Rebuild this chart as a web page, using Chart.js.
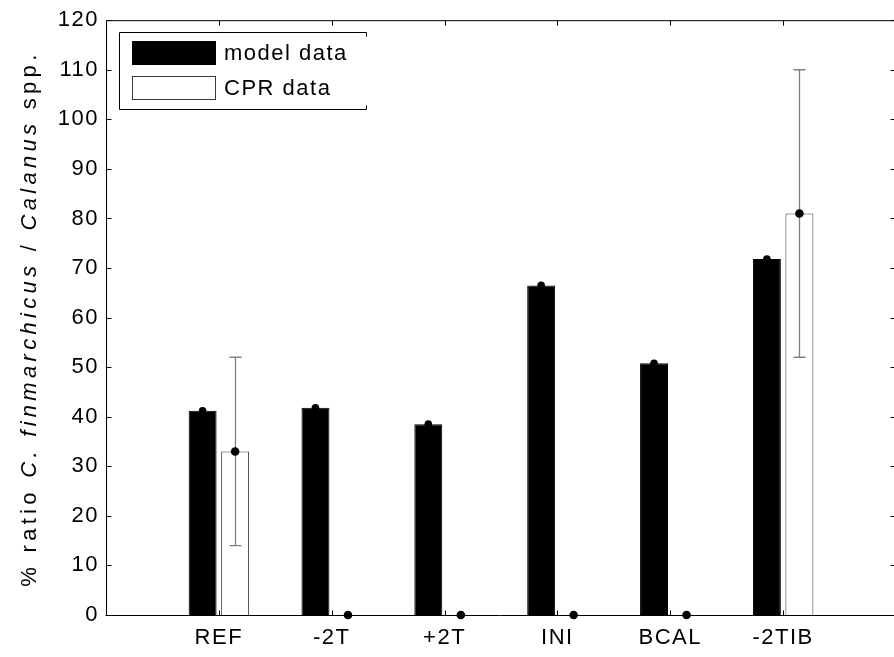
<!DOCTYPE html>
<html><head><meta charset="utf-8">
<script src="https://cdn.jsdelivr.net/npm/chart.js@4.4.0/dist/chart.umd.min.js"></script>
<style>html,body{margin:0;padding:0;background:#fff;overflow:hidden;width:894px;height:657px}canvas{display:block}</style>
</head><body>
<canvas id="c" width="900" height="657"></canvas>
<script>
// ---- data ----
const categories = ['REF', '-2T', '+2T', 'INI', 'BCAL', '-2TIB'];
const modelData = [41.2, 41.8, 38.5, 66.5, 50.8, 71.8];
const cprData = [33, 0, 0, 0, 0, 81];
const cprErr = [19, null, null, null, null, 29];
const yTickValues = [0, 10, 20, 30, 40, 50, 60, 70, 80, 90, 100, 110, 120];
const seriesLabels = ['model data', 'CPR data'];
const yTitleParts = [['% ratio ', false], ['C. finmarchicus', true], [' / ', false], ['Calanus', true], [' spp.', false]];

const FONT = "'Liberation Sans', Arial, sans-serif";
const LS = '1.5px';
const TITLE_LS = '4.3px';

const positions = categories.map((c, i) => i + 1);

const helper = {
  id: 'matlabLook',
  beforeUpdate(chart) { chart.ctx.letterSpacing = LS; },
  beforeDraw(chart) { chart.ctx.letterSpacing = LS; },
  afterDatasetsDraw(chart) {
    const { ctx, chartArea: a, scales: { x, y } } = chart;
    const m0 = chart.getDatasetMeta(0), m1 = chart.getDatasetMeta(1);
    ctx.save();
    // error bars
    ctx.strokeStyle = '#808080';
    ctx.lineWidth = 1.3;
    cprData.forEach((v, i) => {
      if (cprErr[i] == null) return;
      const px = Math.round(m1.data[i].x) + 0.5;
      const t = y.getPixelForValue(v + cprErr[i]);
      const b = y.getPixelForValue(v - cprErr[i]);
      ctx.beginPath();
      ctx.moveTo(px, t); ctx.lineTo(px, b);
      ctx.moveTo(px - 6, t); ctx.lineTo(px + 6, t);
      ctx.moveTo(px - 6, b); ctx.lineTo(px + 6, b);
      ctx.stroke();
    });
    // frame
    ctx.strokeStyle = '#000';
    ctx.lineWidth = 1;
    const L = a.left + 0.5, R = a.right - 0.5, T = a.top + 0.5, B = a.bottom + 0.5;
    ctx.beginPath();
    ctx.moveTo(L, T); ctx.lineTo(R, T);
    ctx.moveTo(L, T); ctx.lineTo(L, B);
    ctx.moveTo(L - 1, B); ctx.lineTo(R, B);
    ctx.moveTo(R, T); ctx.lineTo(R, B);
    yTickValues.forEach(v => {
      const py = Math.round(y.getPixelForValue(v)) + 0.5;
      ctx.moveTo(L, py); ctx.lineTo(L + 5, py);
      ctx.moveTo(R, py); ctx.lineTo(R - 5, py);
    });
    positions.forEach(p => {
      const px = Math.round(x.getPixelForValue(p)) + 0.5;
      ctx.moveTo(px, T); ctx.lineTo(px, T + 5);
      ctx.moveTo(px, B); ctx.lineTo(px, B - 5);
    });
    ctx.stroke();
    // dots
    ctx.fillStyle = '#000';
    modelData.forEach((v, i) => {
      ctx.beginPath();
      ctx.arc(m0.data[i].x, y.getPixelForValue(v), 3.8, 0, Math.PI * 2);
      ctx.fill();
    });
    cprData.forEach((v, i) => {
      ctx.beginPath();
      ctx.arc(m1.data[i].x, y.getPixelForValue(v), 4.3, 0, Math.PI * 2);
      ctx.fill();
    });
    ctx.restore();
  },
  afterDraw(chart) {
    const { ctx, chartArea: a } = chart;
    ctx.save();
    // legend
    const lx0 = 119.5, ly0 = 32.5, lx1 = 366.5, ly1 = 109.5;
    ctx.strokeStyle = '#000';
    ctx.lineWidth = 1;
    ctx.beginPath();
    ctx.moveTo(lx1, ly0); ctx.lineTo(lx0, ly0); ctx.lineTo(lx0, ly1); ctx.lineTo(lx1, ly1);
    ctx.moveTo(lx1, ly0); ctx.lineTo(lx1, ly0 + 4);
    ctx.moveTo(lx1, ly1); ctx.lineTo(lx1, ly1 - 4);
    ctx.stroke();
    const ds = chart.data.datasets;
    const rows = [53, 88];
    ds.forEach((d, i) => {
      const cy = rows[i];
      ctx.fillStyle = d.backgroundColor;
      ctx.fillRect(132, cy - 12, 84, 24);
      ctx.strokeStyle = d.borderColor;
      ctx.strokeRect(132.5, cy - 11.5, 83, 23);
      ctx.fillStyle = '#000';
      ctx.font = '22px ' + FONT;
      ctx.letterSpacing = LS;
      ctx.textBaseline = 'middle';
      ctx.textAlign = 'left';
      ctx.fillText(d.label, 224, cy + 1);
    });
    // y title
    ctx.translate(30, (a.top + a.bottom) / 2 + 1);
    ctx.rotate(-Math.PI / 2);
    ctx.letterSpacing = TITLE_LS;
    ctx.textBaseline = 'middle';
    ctx.textAlign = 'left';
    let total = 0;
    const widths = yTitleParts.map(([t, it]) => {
      ctx.font = (it ? 'italic ' : '') + '22px ' + FONT;
      const w = ctx.measureText(t).width;
      total += w;
      return w;
    });
    let cx = -total / 2;
    yTitleParts.forEach(([t, it], i) => {
      ctx.font = (it ? 'italic ' : '') + '22px ' + FONT;
      ctx.fillText(t, cx, 0);
      cx += widths[i];
    });
    ctx.restore();
  }
};

new Chart(document.getElementById('c'), {
  type: 'bar',
  data: {
    datasets: [
      {
        label: seriesLabels[0],
        data: positions.map((p, i) => ({ x: p, y: modelData[i] })),
        backgroundColor: '#000000',
        borderColor: '#000000',
        borderWidth: 1,
        categoryPercentage: 0.576,
        barPercentage: 0.86
      },
      {
        label: seriesLabels[1],
        data: positions.map((p, i) => ({ x: p, y: cprData[i] })),
        backgroundColor: '#ffffff',
        borderColor: '#3a3a3a',
        borderWidth: 1,
        categoryPercentage: 0.576,
        barPercentage: 0.86
      }
    ]
  },
  options: {
    responsive: false,
    animation: false,
    layout: { padding: { left: 0, right: 4, top: 19, bottom: 0 } },
    plugins: { legend: { display: false }, tooltip: { enabled: false } },
    scales: {
      x: {
        type: 'linear',
        offset: false,
        min: 0, max: 7,
        grid: { display: false, drawTicks: false, offset: false },
        border: { display: false },
        afterFit(s) { s.height = 42; },
        afterBuildTicks(s) { s.ticks = positions.map(v => ({ value: v })); },
        ticks: {
          padding: 10,
          autoSkip: false,
          maxRotation: 0,
          color: '#000',
          font: { family: FONT, size: 22 },
          callback: v => categories[v - 1] ?? ''
        }
      },
      y: {
        min: 0, max: 120,
        grid: { display: false, drawTicks: false },
        border: { display: false },
        afterFit(s) { s.width = 106; },
        afterBuildTicks(s) { s.ticks = yTickValues.map(v => ({ value: v })); },
        ticks: {
          padding: 7,
          color: '#000',
          font: { family: FONT, size: 22 }
        }
      }
    }
  },
  plugins: [helper]
});
</script>
</body></html>
